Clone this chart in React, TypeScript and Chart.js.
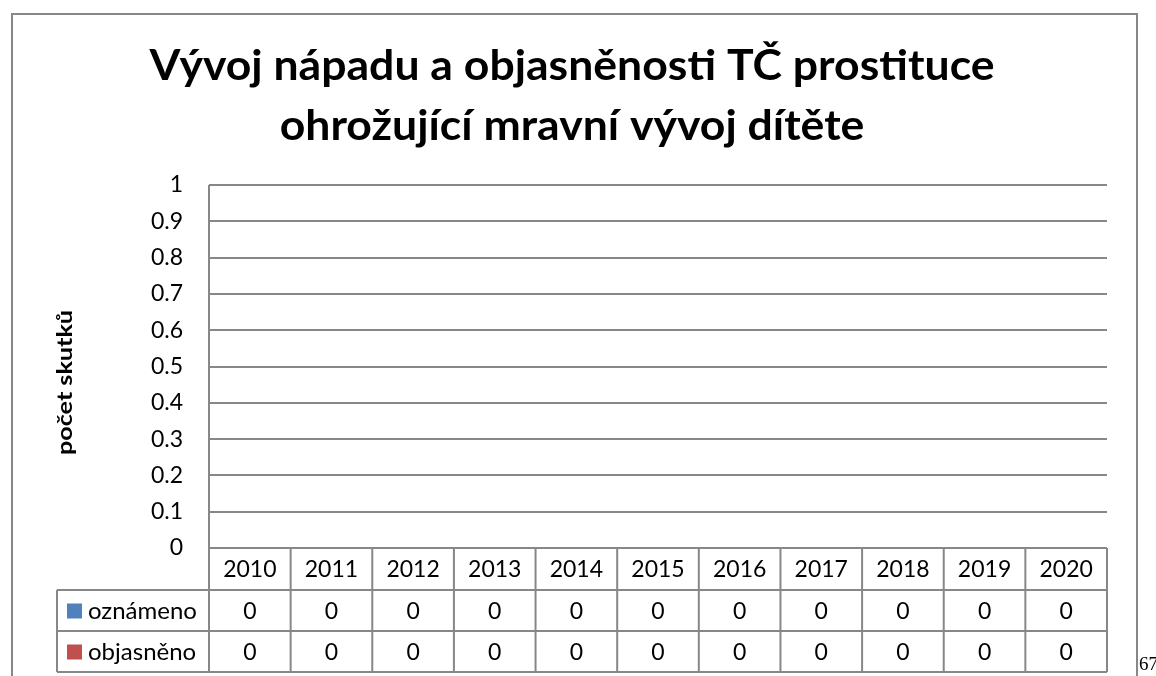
import React, { useEffect, useRef } from 'react';
import { Chart, registerables } from 'chart.js';

Chart.register(...registerables);

const TITLE_LINES = ['Vývoj nápadu a objasněnosti TČ prostituce', 'ohrožující mravní vývoj dítěte'];
const Y_TITLE = 'počet skutků';
const YEARS = ['2010', '2011', '2012', '2013', '2014', '2015', '2016', '2017', '2018', '2019', '2020'];
const SERIES_NAMES = ['oznámeno', 'objasněno'];
const OZNAMENO = [0, 0, 0, 0, 0, 0, 0, 0, 0, 0, 0];
const OBJASNENO = [0, 0, 0, 0, 0, 0, 0, 0, 0, 0, 0];
const SERIES_COLORS = ['#4F81BD', '#C0504D'];
const Y_MIN = 0;
const Y_MAX = 1;
const Y_STEP = 0.1;
const PAGE_NUMBER = '67';

const LINE_COLOR = '#878787';
const FONT = 'Lato';

const titlePlugin = {
  id: 'stretchedTitles',
  afterDraw(chart: any) {
    const ctx = chart.ctx;
    ctx.save();
    ctx.fillStyle = '#000';
    ctx.font = `bold 42px ${FONT}`;
    ctx.textAlign = 'center';
    ctx.textBaseline = 'alphabetic';
    const w1 = ctx.measureText(TITLE_LINES[0]).width;
    const sx = 845 / w1;
    const baselines = [80, 140];
    TITLE_LINES.forEach((t, i) => {
      ctx.save();
      ctx.translate(572, baselines[i]);
      ctx.scale(sx, 1);
      ctx.fillText(t, 0, 0);
      ctx.restore();
    });
    ctx.font = `bold 20px ${FONT}`;
    const wy = ctx.measureText(Y_TITLE).width;
    const sy = 145 / wy;
    ctx.translate(72, 382.5);
    ctx.rotate(-Math.PI / 2);
    ctx.scale(sy, 1);
    ctx.fillText(Y_TITLE, 0, 0);
    ctx.restore();
  },
};

const tablePlugin = {
  id: 'dataTable',
  afterDraw(chart: any) {
    const ctx = chart.ctx;
    const xs = chart.scales.x;
    const area = chart.chartArea;
    const n = YEARS.length;
    const colW = xs.getPixelForValue(1) - xs.getPixelForValue(0);
    const top = area.bottom;
    const r1 = top + 42;
    const r2 = r1 + 41;
    const r3 = r2 + 41;
    const legendLeft = 57;
    const right = xs.getPixelForValue(n - 1) + colW / 2;

    ctx.save();
    ctx.strokeStyle = LINE_COLOR;
    ctx.lineWidth = 2;
    ctx.strokeRect(12, 14, 1125, 720);

    const line = (x1: number, y1: number, x2: number, y2: number) => {
      ctx.beginPath();
      ctx.moveTo(x1, y1);
      ctx.lineTo(x2, y2);
      ctx.stroke();
    };
    line(area.left, top, right, top);
    line(legendLeft, r1, right, r1);
    line(legendLeft, r2, right, r2);
    line(legendLeft, r3, right, r3);
    line(area.left, area.top, area.left, r3);
    line(legendLeft, r1, legendLeft, r3);
    for (let i = 0; i < n; i++) {
      const bx = xs.getPixelForValue(i) + colW / 2;
      line(bx, top, bx, r3);
    }

    ctx.fillStyle = '#000';
    ctx.font = `23px ${FONT}`;
    ctx.textAlign = 'center';
    ctx.textBaseline = 'middle';
    const rows = [OZNAMENO, OBJASNENO];
    for (let i = 0; i < n; i++) {
      const cx = xs.getPixelForValue(i);
      ctx.fillText(YEARS[i], cx, (top + r1) / 2 + 1);
      ctx.fillText(String(rows[0][i]), cx, (r1 + r2) / 2 + 1);
      ctx.fillText(String(rows[1][i]), cx, (r2 + r3) / 2 + 1);
    }
    const rowMids = [(r1 + r2) / 2, (r2 + r3) / 2];
    ctx.font = `24px ${FONT}`;
    for (let s = 0; s < SERIES_NAMES.length; s++) {
      ctx.fillStyle = SERIES_COLORS[s];
      ctx.fillRect(legendLeft + 10, rowMids[s] - 7, 15, 15);
      ctx.fillStyle = '#000';
      ctx.textAlign = 'left';
      ctx.fillText(SERIES_NAMES[s], legendLeft + 31, rowMids[s] + 1);
    }
    ctx.restore();
  },
};

export default function App() {
  const ref = useRef<HTMLCanvasElement>(null);
  useEffect(() => {
    if (!ref.current) return;
    const chart = new Chart(ref.current, {
      type: 'bar',
      data: {
        labels: YEARS,
        datasets: [
          { label: SERIES_NAMES[0], data: OZNAMENO, backgroundColor: SERIES_COLORS[0] },
          { label: SERIES_NAMES[1], data: OBJASNENO, backgroundColor: SERIES_COLORS[1] },
        ],
      },
      options: {
        responsive: false,
        animation: false,
        layout: { padding: { left: 40, right: 49, top: 185, bottom: 128 } },
        plugins: {
          legend: { display: false },
          tooltip: { enabled: false },
          title: { display: false },
        },
        scales: {
          x: { display: false },
          y: {
            min: Y_MIN,
            max: Y_MAX,
            ticks: {
              stepSize: Y_STEP,
              color: '#000',
              font: { family: FONT, size: 23 },
              padding: 26,
              callback: (v: any) => String(Number(Number(v).toFixed(1))),
            },
            grid: { color: LINE_COLOR, lineWidth: 2, drawTicks: false },
            border: { display: false },
            title: { display: false },
            afterFit: (scale: any) => {
              scale.width = 169;
            },
          },
        },
      },
      plugins: [tablePlugin, titlePlugin],
    });
    return () => chart.destroy();
  }, []);
  return (
    <div style={{ position: 'absolute', left: 0, top: 0, width: 1156, height: 676, overflow: 'hidden', background: '#fff' }}>
      <canvas ref={ref} width={1156} height={676} style={{ display: 'block' }} />
      <div style={{ position: 'absolute', left: 1139, top: 652, fontFamily: '"Liberation Serif", serif', fontSize: 19, lineHeight: '24px', color: '#000' }}>{PAGE_NUMBER}</div>
    </div>
  );
}
